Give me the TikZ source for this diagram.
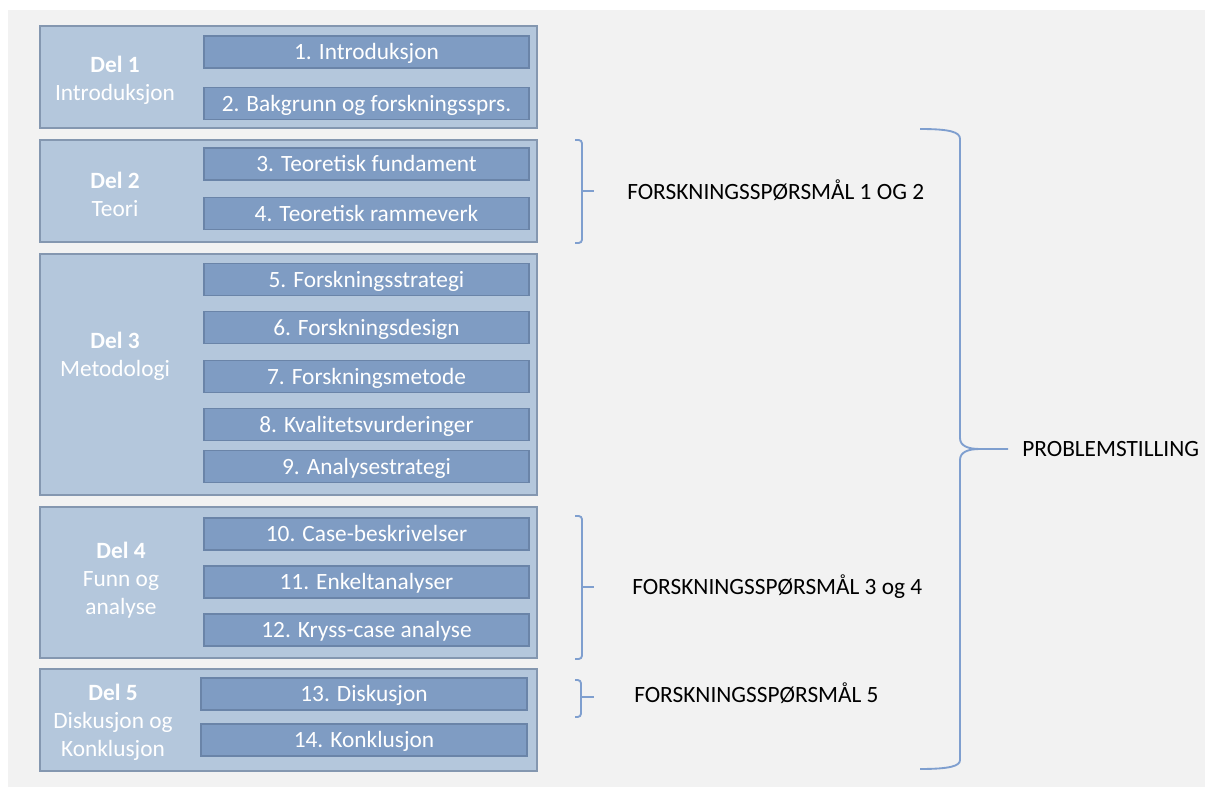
\documentclass[tikz,border=0pt]{standalone}
\usepackage{fontspec}
\setmainfont{Carlito}
\definecolor{bg}{HTML}{F2F2F2}
\definecolor{partfill}{HTML}{B4C7DC}
\definecolor{partline}{HTML}{8497B0}
\definecolor{chapfill}{HTML}{7F9CC3}
\definecolor{chapline}{HTML}{6A84A8}
\definecolor{bracecol}{HTML}{7F9FCF}
\begin{document}
\begin{tikzpicture}[x=0.75pt,y=-0.75pt,
  part/.style={draw=partline, fill=partfill, line width=1.1pt,
    minimum width=497*0.75pt, inner sep=0pt, outer sep=0pt},
  chap/.style={draw=chapline, fill=chapfill, line width=1.1pt,
    minimum width=325*0.75pt, minimum height=32*0.75pt, inner sep=0pt,
    text=white, font=\fontsize{17.5}{21}\selectfont,
    text height=13pt, text depth=1.5pt},
  lbl/.style={text=white, align=center, inner sep=0pt,
    font=\fontsize{17.5}{21}\selectfont},
  qtext/.style={anchor=west, inner sep=0pt, text=black,
    font=\fontsize{17.5}{21}\selectfont, text height=13pt, text depth=1.5pt},
  brk/.style={draw=bracecol, line width=1.4pt, rounded corners=2.5pt}]

\useasboundingbox (0,0) rectangle (1205,787);
\fill[bg] (8,10) rectangle (1205,787);

% parts
\node[part, minimum height=102*0.75pt] (p1) at (288.5,77) {};
\node[part, minimum height=102*0.75pt] (p2) at (288.5,191) {};
\node[part, minimum height=241*0.75pt] (p3) at (288.5,374.5) {};
\node[part, minimum height=151*0.75pt] (p4) at (288.5,582.5) {};
\node[part, minimum height=102*0.75pt] (p5) at (288.5,720) {};

% part labels
\node[lbl] (l1) at (115,80) {\textbf{Del 1}\\Introduksjon};
\node[lbl] (l2) at (115,194) {\textbf{Del 2}\\Teori};
\node[lbl] (l3) at (115,356) {\textbf{Del 3}\\Metodologi};
\node[lbl] (l4) at (121,580) {\textbf{Del 4}\\Funn og\\analyse};
\node[lbl] (l5) at (113,722) {\textbf{Del 5}\\Diskusjon og\\Konklusjon};

% chapters
\node[chap] (c1) at (366.5,52) {1. Introduksjon};
\node[chap] (c2) at (366.5,103.5) {2. Bakgrunn og forskningssprs.};
\node[chap] (c3) at (366.5,164) {3. Teoretisk fundament};
\node[chap] (c4) at (366.5,213.5) {4. Teoretisk rammeverk};
\node[chap] (c5) at (366.5,279.5) {5. Forskningsstrategi};
\node[chap] (c6) at (366.5,327.5) {6. Forskningsdesign};
\node[chap] (c7) at (366.5,376.5) {7. Forskningsmetode};
\node[chap] (c8) at (366.5,424.5) {8. Kvalitetsvurderinger};
\node[chap] (c9) at (366.5,466.5) {9. Analysestrategi};
\node[chap] (c10) at (366.5,534) {10. Case-beskrivelser};
\node[chap] (c11) at (366.5,582) {11. Enkeltanalyser};
\node[chap] (c12) at (366.5,630) {12. Kryss-case analyse};
\node[chap, minimum width=326*0.75pt] (c13) at (364,694) {13. Diskusjon};
\node[chap, minimum width=326*0.75pt] (c14) at (364,740) {14. Konklusjon};

% research question labels
\node[qtext] (q12) at (627,192) {FORSKNINGSSPØRSMÅL 1 OG 2};
\node[qtext] (q34) at (632,587) {FORSKNINGSSPØRSMÅL 3 og 4};
\node[qtext] (q5) at (634,695) {FORSKNINGSSPØRSMÅL 5};
\node[qtext] (ps) at (1022,449) {PROBLEMSTILLING};

% small brackets
\coordinate (t12) at (594,191);
\coordinate (t34) at (594,587);
\coordinate (t5) at (594,697);
\draw[brk] (575,140) -| (582,243) -- (575,243);
\draw[brk] (582,191) -- (t12);
\draw[brk] (575,516) -| (582,659) -- (575,659);
\draw[brk] (582,587) -- (t34);
\draw[brk] (575,680) -| (581,717) -- (575,717);
\draw[brk] (581,697) -- (t5);

% large brace
\coordinate (tip) at (1008,449);
\draw[draw=bracecol, line width=1.4pt]
  (920,129) .. controls (950,129) and (960,132) .. (960,139)
  -- (960,438) .. controls (960,446) and (968,449) .. (980,449) -- (tip);
\draw[draw=bracecol, line width=1.4pt]
  (980,449) .. controls (968,449) and (960,452) .. (960,460)
  -- (960,760) .. controls (960,766) and (950,769) .. (920,769);
\end{tikzpicture}
\end{document}
